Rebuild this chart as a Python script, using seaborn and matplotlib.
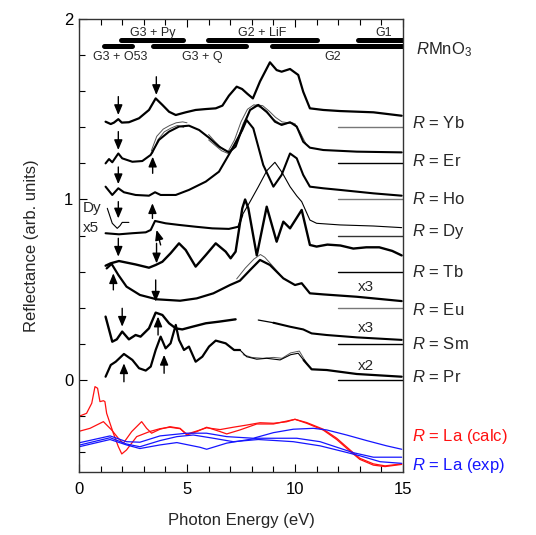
import numpy as np
import pandas as pd
import matplotlib
matplotlib.use("Agg")
import matplotlib.pyplot as plt
import seaborn as sns

# ---------------- data: reflectance spectra (offset per compound) ----------------
yb_E = [1.23, 1.47, 1.62, 1.82, 1.98, 2.31, 2.78, 3.24, 3.55, 3.86, 4.17, 4.48, 4.94, 5.4, 5.87, 6.33,
        6.64, 6.94, 7.3, 7.55, 7.8, 8.05, 8.38, 8.84, 9.15, 9.38, 9.77, 10.15, 10.38, 10.69, 11.31,
        12.08, 13.63, 14.94]
yb_R = [1.431, 1.418, 1.426, 1.445, 1.426, 1.428, 1.45, 1.496, 1.56, 1.524, 1.486, 1.468, 1.483, 1.496,
        1.501, 1.505, 1.52, 1.575, 1.625, 1.612, 1.585, 1.56, 1.654, 1.76, 1.717, 1.708, 1.723, 1.69,
        1.597, 1.505, 1.496, 1.49, 1.483, 1.464]

er_E = [1.23, 1.39, 1.54, 1.82, 2.0, 2.47, 2.93, 3.32, 3.7, 4.17, 4.63, 5.09, 5.56, 6.02, 6.48, 6.94,
        7.25, 7.56, 7.92, 8.3, 8.69, 9.07, 9.38, 9.77, 10.08, 10.38, 10.69, 11.31, 12.86, 14.94]
er_R = [1.2, 1.224, 1.206, 1.255, 1.228, 1.209, 1.213, 1.247, 1.33, 1.376, 1.404, 1.409, 1.385, 1.342,
        1.293, 1.261, 1.293, 1.394, 1.496, 1.524, 1.486, 1.431, 1.413, 1.428, 1.404, 1.32, 1.287, 1.274,
        1.265, 1.261]
# other temperatures of the Er spectrum (partial ranges)
er_t2a_E = [3.35, 3.6, 3.9, 4.2, 4.5, 4.8, 5.0]
er_t2a_R = [1.27, 1.35, 1.39, 1.41, 1.425, 1.43, 1.425]
er_t3a_E = [3.4, 3.65, 3.95, 4.25, 4.55, 4.85]
er_t3a_R = [1.255, 1.33, 1.375, 1.395, 1.41, 1.40]
er_t2b_E = [6.0, 6.3, 6.6, 6.9, 7.2, 7.5, 7.8, 8.1, 8.4, 8.7, 9.0, 9.3, 9.6, 9.9, 10.2, 10.5]
er_t2b_R = [1.36, 1.32, 1.285, 1.265, 1.33, 1.43, 1.50, 1.525, 1.51, 1.48, 1.445, 1.42, 1.42, 1.425,
            1.38, 1.31]
er_t3b_E = [6.0, 6.3, 6.6, 6.9, 7.3, 7.6, 7.9, 8.2, 8.5, 8.8, 9.1, 9.4, 9.7, 10.0, 10.3]
er_t3b_R = [1.33, 1.30, 1.27, 1.255, 1.32, 1.42, 1.49, 1.525, 1.52, 1.49, 1.455, 1.43, 1.425, 1.42, 1.35]

ho_E = [1.23, 1.54, 1.82, 2.08, 2.62, 3.24, 3.52, 3.78, 4.48, 5.09, 5.87, 6.48, 7.02, 7.56, 7.76, 8.07,
        8.53, 9.0, 9.38, 9.77, 10.08, 10.38, 10.69, 11.31, 12.08, 13.63, 14.94]
ho_R = [1.071, 1.025, 1.062, 1.04, 1.025, 1.021, 1.04, 1.025, 1.025, 1.053, 1.099, 1.154, 1.265, 1.385,
        1.44, 1.394, 1.191, 1.071, 1.136, 1.255, 1.228, 1.136, 1.071, 1.062, 1.053, 1.034, 1.021]

dy_E = [1.23, 1.85, 2.47, 3.09, 3.32, 3.52, 4.01, 4.63, 5.4, 6.17, 6.94, 7.38, 7.56, 7.92, 8.3, 8.7,
        9.07, 9.4, 9.77, 10.08, 10.31, 10.69, 11.0, 12.08, 13.63, 14.94]
dy_R = [0.813, 0.807, 0.813, 0.818, 0.831, 0.881, 0.868, 0.859, 0.849, 0.84, 0.837, 0.849, 0.914, 0.988,
        1.07, 1.16, 1.206, 1.15, 1.071, 1.02, 0.988, 0.886, 0.868, 0.859, 0.853, 0.844]
dy_x5_E = [1.31, 1.54, 1.77, 1.9, 2.0, 2.31]
dy_x5_R = [0.951, 0.868, 0.84, 0.855, 0.873, 0.873]

tb_E = [1.23, 1.46, 1.85, 2.62, 3.24, 3.55, 3.86, 4.24, 4.63, 4.94, 5.4, 5.87, 6.33, 6.79, 7.02, 7.25,
        7.56, 7.69, 7.84, 8.23, 8.69, 9.15, 9.46, 9.77, 10.31, 10.69, 11.0, 11.5, 12.1, 12.7, 13.3,
        13.9, 14.5, 14.94]
tb_R = [0.633, 0.646, 0.659, 0.64, 0.622, 0.637, 0.655, 0.702, 0.757, 0.72, 0.628, 0.692, 0.757, 0.711,
        0.674, 0.711, 0.951, 1.0, 0.951, 0.69, 0.96, 0.766, 0.877, 0.84, 0.942, 0.748, 0.739, 0.75,
        0.745, 0.728, 0.735, 0.735, 0.715, 0.69]

eu_E = [1.28, 1.51, 1.82, 2.2, 2.82, 3.59, 4.68, 5.45, 6.22, 6.99, 7.45, 7.92, 8.38, 8.84, 9.46, 10.0,
        10.31, 10.69, 11.31, 12.86, 14.94]
eu_R = [0.618, 0.643, 0.582, 0.517, 0.471, 0.447, 0.439, 0.452, 0.48, 0.526, 0.55, 0.609, 0.665, 0.637,
        0.563, 0.526, 0.536, 0.48, 0.474, 0.461, 0.437]
eu_t2_E = [7.3, 7.7, 8.1, 8.4, 8.6, 8.9, 9.3]
eu_t2_R = [0.56, 0.62, 0.67, 0.695, 0.68, 0.64, 0.585]

sm_low_E = [1.23, 1.54, 1.75, 2.0, 2.31, 2.62, 2.85, 3.24, 3.55, 3.86, 4.17, 4.48, 4.78, 5.25, 5.87,
            6.48, 7.25]
sm_low_R = [0.351, 0.212, 0.225, 0.268, 0.225, 0.249, 0.24, 0.286, 0.373, 0.36, 0.314, 0.286, 0.28,
            0.295, 0.314, 0.323, 0.336]
sm_high_E = [8.3, 9.0, 9.77, 10.38, 10.77, 11.47, 12.86, 14.94]
sm_high_R = [0.332, 0.317, 0.295, 0.28, 0.258, 0.249, 0.236, 0.222]

pr_E = [1.23, 1.47, 1.7, 2.08, 2.47, 2.78, 3.09, 3.32, 3.55, 3.78, 4.01, 4.24, 4.48, 4.63, 4.86, 5.09,
        5.4, 5.71, 6.02, 6.33, 6.79, 7.18, 7.45, 7.76, 8.23, 8.69, 9.31, 9.8, 10.15, 10.4, 10.77, 11.47,
        12.86, 14.94]
pr_R = [0.018, 0.083, 0.101, 0.144, 0.111, 0.065, 0.052, 0.074, 0.166, 0.24, 0.175, 0.203, 0.305,
        0.222, 0.166, 0.185, 0.101, 0.129, 0.185, 0.218, 0.203, 0.166, 0.166, 0.129, 0.115, 0.12,
        0.111, 0.14, 0.148, 0.11, 0.059, 0.055, 0.033, 0.018]
pr_t2_E = [7.6, 8.0, 8.5, 9.0, 9.4, 9.8, 10.2, 10.5]
pr_t2_R = [0.14, 0.125, 0.12, 0.125, 0.12, 0.15, 0.16, 0.1]

# LaMnO3: calculated (red) and experimental (blue)
la_calc1_E = [0.05, 0.35, 0.59, 0.74, 0.86, 0.97, 1.13, 1.2, 1.28, 1.59, 1.82, 1.98, 2.2, 2.67, 3.27,
              3.75, 4.21, 4.68, 4.99, 5.45, 5.91, 6.53, 7.14, 7.76, 8.38, 9.0, 9.6, 10.0, 10.54, 11.31,
              11.93, 12.55, 13.0, 13.63, 14.17, 14.94]
la_calc1_R = [-0.199, -0.185, -0.129, -0.037, -0.046, -0.12, -0.115, -0.12, -0.185, -0.295, -0.369,
              -0.41, -0.388, -0.314, -0.286, -0.27, -0.262, -0.27, -0.3, -0.283, -0.265, -0.275,
              -0.262, -0.25, -0.237, -0.24, -0.232, -0.218, -0.24, -0.278, -0.33, -0.395, -0.44,
              -0.472, -0.48, -0.468]
la_calc2_E = [0.05, 0.51, 1.13, 1.51, 1.82, 2.05, 2.44, 2.9, 3.13, 3.36, 3.75, 4.21, 4.68, 4.99, 5.45,
              5.91, 6.53, 6.84, 7.45, 8.23, 9.0, 10.0, 10.54, 11.31, 11.93, 12.55, 13.0, 13.63, 14.17,
              14.94]
la_calc2_R = [-0.283, -0.268, -0.231, -0.277, -0.323, -0.351, -0.286, -0.231, -0.268, -0.295, -0.273,
              -0.259, -0.268, -0.305, -0.286, -0.262, -0.286, -0.299, -0.277, -0.244, -0.244, -0.218,
              -0.236, -0.273, -0.323, -0.388, -0.434, -0.465, -0.476, -0.465]
la_exp1_E = [0.05, 1.44, 2.2, 2.82, 3.75, 4.99, 5.9, 6.84, 8.07, 9.0, 9.92, 10.85, 11.47, 12.39, 13.32,
             14.24, 14.94]
la_exp1_R = [-0.347, -0.31, -0.342, -0.345, -0.31, -0.295, -0.295, -0.314, -0.323, -0.292, -0.273,
             -0.268, -0.277, -0.305, -0.336, -0.365, -0.384]
la_exp2_E = [0.05, 1.44, 2.2, 2.82, 3.75, 4.53, 5.6, 5.91, 6.84, 8.23, 9.0, 10.08, 11.16, 12.7, 13.63,
             14.94]
la_exp2_R = [-0.369, -0.33, -0.36, -0.38, -0.36, -0.347, -0.373, -0.384, -0.35, -0.323, -0.323, -0.323,
             -0.342, -0.403, -0.428, -0.428]
la_exp3_E = [0.05, 1.44, 2.2, 2.82, 3.75, 4.53, 5.29, 6.22, 7.14, 8.3, 9.0, 9.92, 11.16, 12.24, 13.0,
             13.94, 14.94]
la_exp3_R = [-0.36, -0.32, -0.355, -0.37, -0.336, -0.314, -0.305, -0.323, -0.342, -0.33, -0.335, -0.342,
             -0.365, -0.397, -0.42, -0.453, -0.462]

# compounds, their zero levels and label heights
compounds = ["Yb", "Er", "Ho", "Dy", "Tb", "Eu", "Sm", "Pr"]
zero_levels = [1.4, 1.2, 1.0, 0.8, 0.6, 0.4, 0.2, 0.0]
label_levels = [1.424, 1.213, 1.0, 0.82, 0.598, 0.388, 0.199, 0.017]
baseline_colors = ["#777777", "black", "#777777", "#333333", "black", "#777777", "black", "black"]

# scale factors
scale_text = ["x3", "x3", "x2"]
scale_y = [0.515, 0.289, 0.08]

# characteristic features (energy, arrow tail, arrow head)
arrow_E = [1.82, 3.58, 1.82, 3.41, 1.82, 1.82, 3.4, 1.82, 3.59, 1.59, 3.55, 2.0, 3.66, 2.08, 3.94]
arrow_from = [1.57, 1.68, 1.376, 1.145, 1.18, 0.988, 0.895, 0.785, 0.757, 0.499, 0.554, 0.397, 0.249,
              -0.01, 0.037]
arrow_to = [1.468, 1.579, 1.274, 1.237, 1.085, 0.895, 0.979, 0.683, 0.646, 0.591, 0.434, 0.295, 0.351,
            0.092, 0.139]

# spectral ranges of the gratings / filters
band_names = ["G3 + Py", "G2 + LiF", "G1", "G3 + O53", "G3 + Q", "G2"]
band_start = [1.94, 5.97, 12.9, 1.16, 3.43, 8.93]
band_end = [4.8, 11.0, 15.0, 2.45, 7.73, 15.0]
band_row = [0, 0, 0, 1, 1, 1]
band_label_E = [3.4, 8.5, 14.1, 1.9, 5.7, 11.75]

# ---------------- style ----------------
sns.set_style("ticks")
plt.rcParams["font.family"] = ["Liberation Sans", "DejaVu Sans"]
plt.rcParams["mathtext.fontset"] = "custom"
plt.rcParams["mathtext.rm"] = "Liberation Sans"
plt.rcParams["mathtext.it"] = "Liberation Sans:italic"
plt.rcParams["lines.solid_joinstyle"] = "round"
plt.rcParams["lines.solid_capstyle"] = "round"

fig = plt.figure(figsize=(5.36, 5.35), dpi=100)
ax = fig.add_axes([79 / 536, 1 - 472 / 535, 324 / 536, 453 / 535])


def line(E, R, color="black", lw=1.4, thin=None, thin_lw=0.7):
    """Draw one spectrum; segments inside the energy range `thin` use a hairline."""
    E = list(E)
    R = list(R)
    styles = []
    for i in range(len(E) - 1):
        is_thin = thin is not None and thin[0] <= E[i] and E[i + 1] <= thin[1]
        styles.append(is_thin)
    start = 0
    for i in range(1, len(styles) + 1):
        if i == len(styles) or styles[i] != styles[start]:
            df = pd.DataFrame({"energy": E[start:i + 1], "R": R[start:i + 1]})
            sns.lineplot(data=df, x="energy", y="R", ax=ax, color=color,
                         linewidth=thin_lw if styles[start] else lw,
                         sort=False, estimator=None, legend=False)
            start = i


# baselines (zero levels) at high energy
for z, c in zip(zero_levels, baseline_colors):
    df = pd.DataFrame({"energy": [12.0, 15.0], "R": [z, z]})
    sns.lineplot(data=df, x="energy", y="R", ax=ax, color=c, linewidth=1.0,
                 estimator=None, legend=False)

thin_grey = "#555555"
line(yb_E, yb_R, lw=1.6)
for e, r in [(er_t2a_E, er_t2a_R), (er_t3a_E, er_t3a_R), (er_t2b_E, er_t2b_R), (er_t3b_E, er_t3b_R)]:
    line(e, r, color=thin_grey, lw=0.7)
line(er_E, er_R, lw=1.5)
line(ho_E, ho_R, lw=1.5)
line(dy_E, dy_R, lw=1.5, thin=(7.5, 15.0), thin_lw=0.8)
line(dy_x5_E, dy_x5_R, lw=0.8)
line(tb_E, tb_R, lw=1.7)
line(eu_t2_E, eu_t2_R, color=thin_grey, lw=0.7)
line(eu_E, eu_R, lw=1.6)
line(sm_low_E, sm_low_R, lw=1.7)
line(sm_high_E, sm_high_R, lw=1.5, thin=(8.0, 9.1), thin_lw=0.9)
line(pr_t2_E, pr_t2_R, color=thin_grey, lw=0.7)
line(pr_E, pr_R, lw=1.6, thin=(7.4, 10.5), thin_lw=0.8)

red = "#ff1010"
blue = "#1515ff"
line(la_calc1_E, la_calc1_R, color=red, lw=0.9)
line(la_calc2_E, la_calc2_R, color=red, lw=0.9)
line(la_exp1_E, la_exp1_R, color=blue, lw=0.9)
line(la_exp2_E, la_exp2_R, color=blue, lw=0.9)
line(la_exp3_E, la_exp3_R, color=blue, lw=0.9)

# feature arrows
arrow_style = dict(arrowstyle="-|>,head_length=0.6,head_width=0.25", color="black",
                   lw=1.0, shrinkA=0, shrinkB=0, mutation_scale=10)
for e, y0, y1 in zip(arrow_E, arrow_from, arrow_to):
    ax.annotate("", xy=(e, y1), xytext=(e, y0), arrowprops=arrow_style)
ax.annotate("", xy=(3.59, 0.831), xytext=(3.78, 0.748), arrowprops=arrow_style)

# spectral ranges on top
row_y = [1.884, 1.85]
for name, s, e, r, le in zip(band_names, band_start, band_end, band_row, band_label_E):
    df = pd.DataFrame({"energy": [s, e], "R": [row_y[r], row_y[r]]})
    sns.lineplot(data=df, x="energy", y="R", ax=ax, color="black", linewidth=3.6,
                 estimator=None, legend=False)
    if r == 0:
        ax.text(le, 1.922, name, ha="center", va="center", fontsize=9)
    else:
        ax.text(le, 1.79, name, ha="center", va="center", fontsize=9)

# labels
for comp, ly in zip(compounds, label_levels):
    ax.text(15.42, ly, r"$R$ = " + comp, ha="left", va="center", fontsize=12, clip_on=False)
ax.text(15.42, -0.316, r"$R$ = La (calc)", color=red, ha="left", va="center", fontsize=12,
        clip_on=False)
ax.text(15.42, -0.476, r"$R$ = La (exp)", color=blue, ha="left", va="center", fontsize=12,
        clip_on=False)
ax.text(15.6, 1.828, r"$R$MnO$_3$", ha="left", va="center", fontsize=12, clip_on=False)

for t, y in zip(scale_text, scale_y):
    ax.text(13.3, y, t, ha="center", va="center", fontsize=11)
ax.text(0.19, 0.955, "Dy", ha="left", va="center", fontsize=11)
ax.text(0.19, 0.84, "x5", ha="left", va="center", fontsize=11)

# axes
ax.set_xlim(0, 15)
ax.set_ylim(-0.51, 2.0)
ax.set_xticks([0, 5, 10, 15])
ax.set_xticks(np.arange(0, 16, 1), minor=True)
ax.set_yticks([0, 1, 2])
ax.set_yticks(np.arange(-0.4, 2.01, 0.2), minor=True)
ax.tick_params(which="both", direction="in", top=True, right=False, labelsize=12, width=0.8,
               colors="black")
ax.tick_params(which="major", length=6)
ax.tick_params(which="minor", length=4)
ax.tick_params(axis="x", pad=7)
ax.tick_params(axis="y", pad=4)
for s in ax.spines.values():
    s.set_visible(True)
    s.set_linewidth(1.0)
    s.set_color("#333333")
ax.set_xlabel("Photon Energy (eV)", fontsize=12, labelpad=12)
ax.set_ylabel("Reflectance (arb. units)", fontsize=12, labelpad=18)

fig.savefig("out.png", dpi=100)
